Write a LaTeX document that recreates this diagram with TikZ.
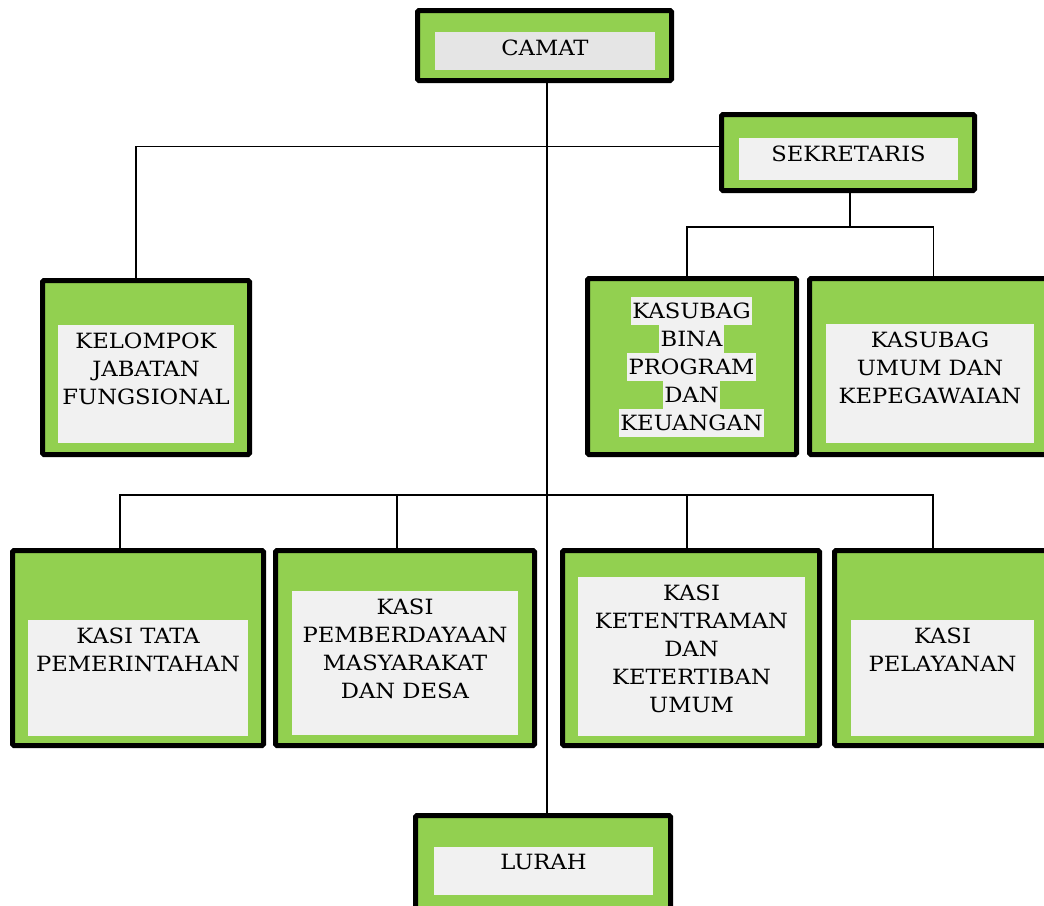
\documentclass[tikz,border=0pt]{standalone}
\usepackage{fontspec}
\setmainfont[FakeStretch=1.08]{DejaVu Serif}
\usepackage{tikz}
\usetikzlibrary{positioning, calc}
\usepackage{xcolor}

\definecolor{hijau}{HTML}{92D050}
\definecolor{abu}{HTML}{F1F1F1}
\definecolor{abugelap}{HTML}{E5E5E5}

\tikzset{
  unit/.style={draw=black, line width=5pt, fill=hijau, rounded corners=1.5pt, inner sep=0pt},
  isi/.style={fill=abu, inner sep=0pt},
  teks/.style={anchor=north, inner sep=0pt, align=center, font=\fontsize{21}{28}\selectfont},
  sorot/.style={fill=abu, inner xsep=1.5pt, inner ysep=0pt, minimum height=28pt, text height=15.3pt, text depth=0pt, font=\fontsize{21}{28}\selectfont},
  garis/.style={line width=1.8pt, black}
}

\begin{document}
\begin{tikzpicture}[x=1pt, y=-1pt]

\useasboundingbox (0,0) rectangle (1044,905);
\clip (0,0) rectangle (1044,905);

% Camat
\node[unit, minimum width=254pt, minimum height=70pt] (camat) at (544.5,45.5) {};
\node[isi, fill=abugelap, minimum width=220pt, minimum height=38pt] (camat-isi) at (545,51) {};
\node[teks] (camat-t) at ([yshift=-7.5pt]camat-isi.north) {CAMAT};

% Sekretaris
\node[unit, minimum width=253pt, minimum height=76pt] (sekretaris) at (848,152.5) {};
\node[isi, minimum width=219pt, minimum height=42pt] (sekretaris-isi) at (848.5,159) {};
\node[teks] (sekretaris-t) at ([yshift=-7.5pt]sekretaris-isi.north) {SEKRETARIS};

% Kelompok jabatan fungsional
\node[unit, minimum width=207pt, minimum height=174pt] (kelompok) at (146,367.5) {};
\node[isi, minimum width=176pt, minimum height=118pt] (kelompok-isi) at (146,384) {};
\node[teks] (kelompok-t) at ([yshift=-7.5pt]kelompok-isi.north) {KELOMPOK\\JABATAN\\FUNGSIONAL};

% Kasubag bina program (highlight per baris)
\node[unit, minimum width=209pt, minimum height=176pt] (bina) at (692,366.5) {};
\foreach \baris [count=\i] in {KASUBAG,BINA,PROGRAM,DAN,KEUANGAN}
  \node[sorot] (bina\i) at (691.5,283+28*\i) {\baris};

% Kasubag umum
\node[unit, minimum width=238pt, minimum height=176pt] (umum) at (928.5,366.5) {};
\node[isi, minimum width=208pt, minimum height=119pt] (umum-isi) at (930,383.5) {};
\node[teks] (umum-t) at ([yshift=-7.5pt]umum-isi.north) {KASUBAG\\UMUM DAN\\KEPEGAWAIAN};

% Kasi kasi
\node[unit, minimum width=251pt, minimum height=195pt] (tata) at (138,648) {};
\node[isi, minimum width=220pt, minimum height=116pt] (tata-isi) at (138,678) {};
\node[teks] (tata-t) at ([yshift=-7.5pt]tata-isi.north) {KASI TATA\\PEMERINTAHAN};

\node[unit, minimum width=259pt, minimum height=195pt] (berdaya) at (405,648) {};
\node[isi, minimum width=226pt, minimum height=144pt] (berdaya-isi) at (405,663) {};
\node[teks] (berdaya-t) at ([yshift=-7.5pt]berdaya-isi.north) {KASI\\PEMBERDAYAAN\\MASYARAKAT\\DAN DESA};

\node[unit, minimum width=257pt, minimum height=195pt] (tentram) at (691,648) {};
\node[isi, minimum width=227pt, minimum height=159pt] (tentram-isi) at (691.5,656.5) {};
\node[teks] (tentram-t) at ([yshift=-7.5pt]tentram-isi.north) {KASI\\KETENTRAMAN\\DAN\\KETERTIBAN\\UMUM};

\node[unit, minimum width=213pt, minimum height=195pt] (layanan) at (941,648) {};
\node[isi, minimum width=183pt, minimum height=116pt] (layanan-isi) at (942.5,678) {};
\node[teks] (layanan-t) at ([yshift=-7.5pt]layanan-isi.north) {KASI\\PELAYANAN};

% Lurah
\node[unit, minimum width=255pt, minimum height=97pt] (lurah) at (543,864) {};
\node[isi, minimum width=219pt, minimum height=48pt] (lurah-isi) at (543.5,871) {};
\node[teks] (lurah-t) at ([yshift=-7.5pt]lurah-isi.north) {LURAH};

% Garis komando
\draw[garis] ([xshift=2.5pt]camat.south) -- ([xshift=2.5pt]camat.south |- lurah.north);
\draw[garis] ([yshift=6pt]sekretaris.west) -| ([xshift=-10pt]kelompok.north);
\draw[garis] ([xshift=2pt]sekretaris.south) -- ++(0,34) coordinate (sbus);
\draw[garis] ([xshift=-5pt]bina.north) |- (sbus) -| ([xshift=5pt]umum.north);

% Garis ke kasi
\draw[garis] ([xshift=-18pt]tata.north) -- ++(0,-53) -| ([xshift=-8pt]layanan.north);
\draw[garis] ([xshift=-8pt]berdaya.north) -- ++(0,-53);
\draw[garis] ([xshift=-4pt]tentram.north) -- ++(0,-53);

\end{tikzpicture}
\end{document}
